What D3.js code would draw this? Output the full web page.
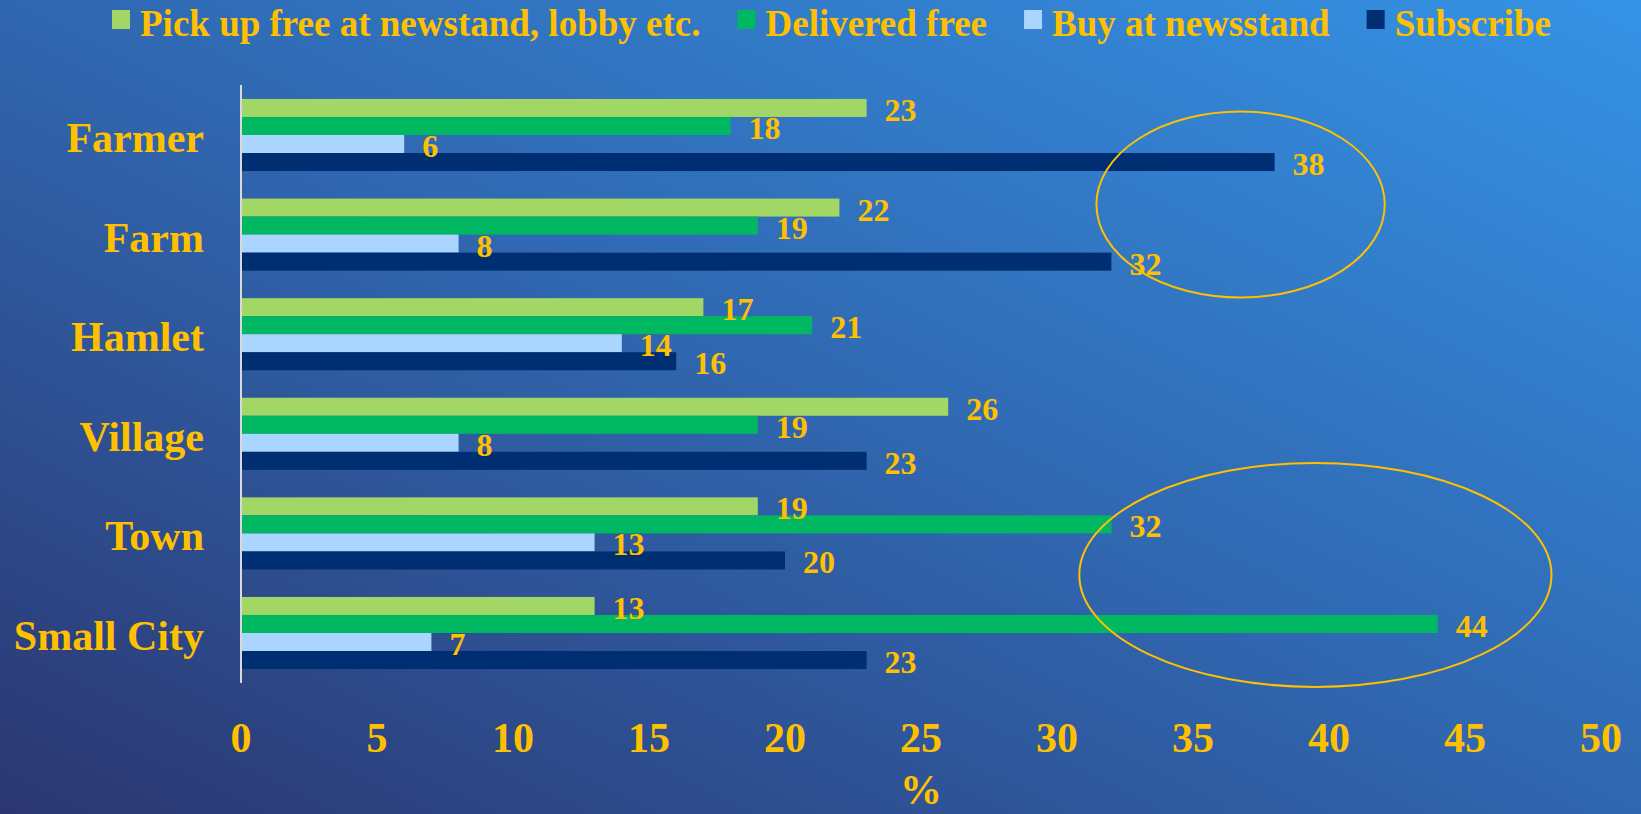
<!DOCTYPE html>
<html>
<head>
<meta charset="utf-8">
<script src="https://cdn.jsdelivr.net/npm/d3@7"></script>
<style>
  html, body { margin: 0; padding: 0; overflow: hidden; }
  svg text { font-family: "Liberation Serif", "Times New Roman", serif; font-weight: bold; fill: #FFC000; }
</style>
</head>
<body>
<div id="chart"></div>
<script>
// data
var categories = ['Farmer', 'Farm', 'Hamlet', 'Village', 'Town', 'Small City'];
var seriesNames = ['Pick up free at newstand, lobby etc.', 'Delivered free', 'Buy at newsstand', 'Subscribe'];
var pickUpFree = [23, 22, 17, 26, 19, 13];
var deliveredFree = [18, 19, 21, 19, 32, 44];
var buyNewsstand = [6, 8, 14, 8, 13, 7];
var subscribe = [38, 32, 16, 23, 20, 23];
var xTicks = [0, 5, 10, 15, 20, 25, 30, 35, 40, 45, 50];
var seriesColors = ['#A2D665', '#00B862', '#A9D5FF', '#002E73'];

var width = 1641, height = 814;
var plot = { left: 241, right: 1601, top: 85, bottom: 683 };

var svg = d3.select('#chart').append('svg')
    .attr('width', width)
    .attr('height', height);

// background gradient
var defs = svg.append('defs');
var grad = defs.append('linearGradient')
    .attr('id', 'bg')
    .attr('x1', '0%').attr('y1', '100%')
    .attr('x2', '100%').attr('y2', '0%');
grad.append('stop').attr('offset', '0%').attr('stop-color', '#2B3670');
grad.append('stop').attr('offset', '50%').attr('stop-color', '#3067B0');
grad.append('stop').attr('offset', '100%').attr('stop-color', '#3593E6');

svg.append('rect')
    .attr('width', width)
    .attr('height', height)
    .attr('fill', 'url(#bg)');

var allSeries = [pickUpFree, deliveredFree, buyNewsstand, subscribe];
var rows = categories.map(function (c, i) {
    return { cat: c, vals: allSeries.map(function (s, k) { return { k: k, v: s[i] }; }) };
});

var x = d3.scaleLinear()
    .domain([0, 50])
    .range([plot.left, plot.right]);

var y = d3.scaleBand()
    .domain(categories)
    .range([plot.top, plot.bottom])
    .paddingInner(0.276)
    .paddingOuter(0.14);

var y1 = d3.scaleBand()
    .domain(d3.range(seriesNames.length))
    .range([0, y.bandwidth()]);

// bars
var groups = svg.selectAll('.group')
    .data(rows)
    .enter()
    .append('g')
    .attr('class', 'group')
    .attr('transform', d => 'translate(0,' + y(d.cat) + ')');

groups.selectAll('rect')
    .data(d => d.vals)
    .enter()
    .append('rect')
    .attr('x', x(0))
    .attr('y', d => y1(d.k))
    .attr('width', d => x(d.v) - x(0))
    .attr('height', y1.bandwidth())
    .attr('fill', d => seriesColors[d.k]);

// value labels
groups.selectAll('.val')
    .data(d => d.vals)
    .enter()
    .append('text')
    .attr('class', 'val')
    .attr('x', d => x(d.v) + 18)
    .attr('y', d => y1(d.k) + y1.bandwidth() / 2 + 13)
    .style('font-size', '32px')
    .text(d => d.v);

// vertical axis line
svg.append('line')
    .attr('x1', x(0)).attr('x2', x(0))
    .attr('y1', plot.top).attr('y2', plot.bottom)
    .attr('stroke', '#D9D9D9')
    .attr('stroke-width', 2);

// category labels
svg.selectAll('.cat')
    .data(categories)
    .enter()
    .append('text')
    .attr('class', 'cat')
    .attr('x', 204)
    .attr('y', d => y(d) + y.bandwidth() / 2 + 17)
    .attr('text-anchor', 'end')
    .style('font-size', '42px')
    .text(d => d);

// x tick labels
svg.selectAll('.tick')
    .data(xTicks)
    .enter()
    .append('text')
    .attr('class', 'tick')
    .attr('x', d => x(d))
    .attr('y', 752)
    .attr('text-anchor', 'middle')
    .style('font-size', '42px')
    .text(d => d);

svg.append('text')
    .attr('x', x(25))
    .attr('y', 804)
    .attr('text-anchor', 'middle')
    .style('font-size', '42px')
    .text('%');

// highlight ellipses
svg.append('ellipse')
    .attr('cx', x(36.75))
    .attr('cy', y('Farm') + 6)
    .attr('rx', x(5.3) - x(0))
    .attr('ry', 93)
    .attr('fill', 'none')
    .attr('stroke', '#FFC000')
    .attr('stroke-width', 2);

svg.append('ellipse')
    .attr('cx', x(39.5))
    .attr('cy', y('Small City') - 22)
    .attr('rx', x(8.68) - x(0))
    .attr('ry', 112)
    .attr('fill', 'none')
    .attr('stroke', '#FFC000')
    .attr('stroke-width', 2);

// legend
var lx = 112;
seriesNames.forEach(function (name, i) {
    svg.append('rect')
        .attr('x', lx)
        .attr('y', 10)
        .attr('width', 18)
        .attr('height', 19)
        .attr('fill', seriesColors[i]);
    var t = svg.append('text')
        .attr('x', lx + 28)
        .attr('y', 36)
        .style('font-size', '37px')
        .text(name);
    lx += 28 + t.node().getComputedTextLength() + 37;
});
</script>
</body>
</html>
